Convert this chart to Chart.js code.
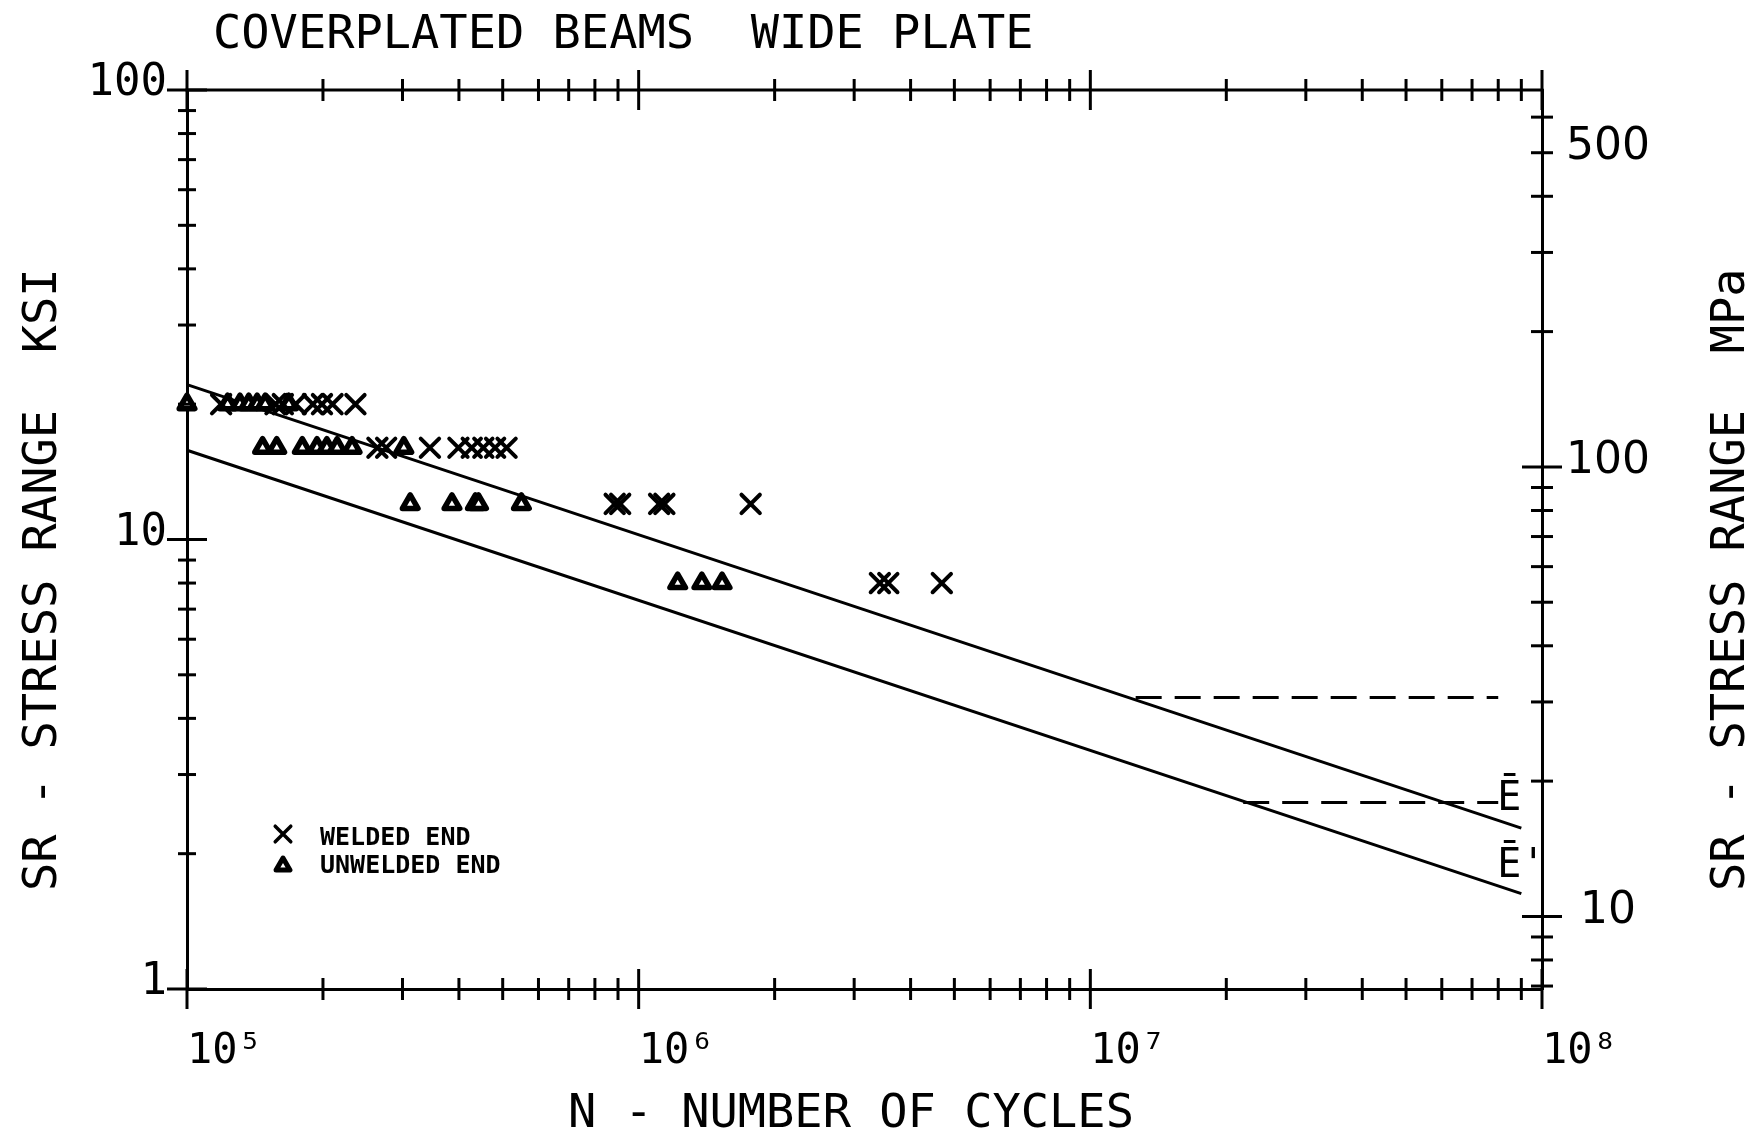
<!DOCTYPE html>
<html>
<head>
<meta charset="utf-8">
<title>Coverplated beams - wide plate</title>
<script src="https://cdn.jsdelivr.net/npm/chart.js@4.4.1/dist/chart.umd.min.js"></script>
<style>
  html, body { margin: 0; padding: 0; background: #ffffff; }
  #wrap { width: 1747px; height: 1132px; }
</style>
</head>
<body>
<div id="wrap"><canvas id="chart" width="1747" height="1132"></canvas></div>
<script>
// ---- test results: cycles to failure (N) and stress range (ksi) ----
const weldedN  = [1.19e5, 1.57e5, 1.63e5, 1.74e5, 1.90e5, 1.99e5, 2.10e5, 2.36e5,
                  2.64e5, 2.76e5, 3.45e5, 3.99e5, 4.27e5, 4.53e5, 4.81e5, 5.10e5,
                  8.85e5, 9.10e5, 1.11e6, 1.14e6, 1.77e6,
                  3.42e6, 3.57e6, 4.69e6];
const weldedSR = [20, 20, 20, 20, 20, 20, 20, 20,
                  16, 16, 16, 16, 16, 16, 16, 16,
                  12, 12, 12, 12, 12,
                  8, 8, 8];

const unweldedN  = [1.00e5, 1.23e5, 1.31e5, 1.37e5, 1.43e5, 1.49e5, 1.68e5,
                    1.47e5, 1.58e5, 1.80e5, 1.94e5, 2.04e5, 2.15e5, 2.32e5, 3.02e5,
                    3.12e5, 3.86e5, 4.35e5, 4.42e5, 5.50e5,
                    1.22e6, 1.38e6, 1.53e6];
const unweldedSR = [20, 20, 20, 20, 20, 20, 20,
                    16, 16, 16, 16, 16, 16, 16, 16,
                    12, 12, 12, 12, 12,
                    8, 8, 8];

// ---- design curves (category E and E') and their fatigue thresholds ----
const catE_N   = [1e5, 9e7];
const catE_SR  = [22.1, 2.28];
const catEp_N  = [1e5, 9e7];
const catEp_SR = [15.8, 1.63];
const threshE_N   = [1.26e7, 8e7];
const threshE_SR  = [4.45, 4.45];
const threshEp_N  = [2.18e7, 8e7];
const threshEp_SR = [2.6, 2.6];

// ---- axes ----
const xDecades    = [1e5, 1e6, 1e7, 1e8];
const xTickLabels = ['10\u2075', '10\u2076', '10\u2077', '10\u2078'];
const ksiDecades  = [1, 10, 100];
const ksiLabels   = ['1', '10', '100'];
const mpaLabelled = [10, 100, 500];
const mpaLabels   = ['10', '100', '500'];
const KSI_TO_MPA  = 6.894757;

const INK  = '#000000';
const MONO = '"DejaVu Sans Mono", monospace';
const SANS = '"DejaVu Sans", sans-serif';

// 1..9 subdivisions of each decade between lo and hi
function logTicks(lo, hi) {
  const out = [];
  for (let e = Math.floor(Math.log10(lo)); e <= Math.ceil(Math.log10(hi)); e++) {
    for (let m = 1; m <= 9; m++) {
      const v = Math.round(m * Math.pow(10, e) * 1e6) / 1e6;
      if (v >= lo * 0.9999 && v <= hi * 1.0001) out.push(v);
    }
  }
  return out;
}
const isDecade = v => Math.abs(Math.log10(v) - Math.round(Math.log10(v))) < 1e-9;
const pts = (xs, ys) => xs.map((v, i) => ({ x: v, y: ys[i] }));

const weldedStyle   = { pointStyle: 'crossRot', radius: 13, borderWidth: 4, rotation: 0 };
const unweldedStyle = { pointStyle: 'triangle', radius: 9, borderWidth: 5.5, rotation: 0 };
const keyWelded     = { pointStyle: 'crossRot', radius: 11, borderWidth: 3.5, rotation: 0 };
const keyUnwelded   = { pointStyle: 'triangle', radius: 8, borderWidth: 5, rotation: 0 };

// rounded pen joins for the plotted symbols
const penJoins = {
  id: 'penJoins',
  beforeDatasetsDraw(chart) { chart.ctx.save(); chart.ctx.lineJoin = 'round'; chart.ctx.lineCap = 'round'; },
  afterDatasetsDraw(chart) { chart.ctx.restore(); }
};

// crossing tick marks on all four sides of the frame
const frameTicks = {
  id: 'frameTicks',
  afterDraw(chart) {
    const { ctx, chartArea: a } = chart;
    const { x, y, y2 } = chart.scales;
    ctx.save();
    ctx.strokeStyle = INK;
    ctx.lineWidth = 3;
    ctx.lineCap = 'butt';
    const seg = (x1, y1, x2, y2b) => { ctx.beginPath(); ctx.moveTo(x1, y1); ctx.lineTo(x2, y2b); ctx.stroke(); };
    seg(a.left - 1.5, a.top, a.right + 1.5, a.top);
    x.ticks.forEach(t => {
      const p = x.getPixelForValue(t.value);
      const h = isDecade(t.value) ? 20 : 11;
      seg(p, a.bottom - h, p, a.bottom + h);
      seg(p, a.top - h, p, a.top + h);
    });
    y.ticks.forEach(t => {
      const p = y.getPixelForValue(t.value);
      const h = isDecade(t.value) ? 20 : 9;
      seg(a.left - h, p, a.left + h, p);
    });
    y2.ticks.forEach(t => {
      const p = y2.getPixelForValue(t.value);
      const h = isDecade(t.value) ? 20 : 11;
      seg(a.right - h, p, a.right + h, p);
    });
    ctx.restore();
  }
};

// titles, curve labels and the key
const annotations = {
  id: 'annotations',
  afterDraw(chart) {
    const { ctx } = chart;
    const { x, y } = chart.scales;
    ctx.save();
    ctx.fillStyle = INK;
    ctx.textAlign = 'left';
    ctx.textBaseline = 'alphabetic';

    ctx.font = '47px ' + MONO;
    ctx.fillText('COVERPLATED BEAMS  WIDE PLATE', 213, 48);
    ctx.fillText('N - NUMBER OF CYCLES', 568, 1127);

    ctx.save();
    ctx.translate(56, 891);
    ctx.rotate(-Math.PI / 2);
    ctx.fillText('SR - STRESS RANGE  KSI', 0, 0);
    ctx.restore();

    ctx.save();
    ctx.translate(1744, 891);
    ctx.rotate(-Math.PI / 2);
    ctx.fillText('SR - STRESS RANGE  MPa', 0, 0);
    ctx.restore();

    // category labels at the end of the threshold lines
    ctx.font = '40px ' + MONO;
    const lx = x.getPixelForValue(threshEp_N[1]) - 1;
    const ly = y.getPixelForValue(threshEp_SR[0]);
    ctx.fillText('\u0112', lx, ly + 8);
    ctx.fillText('\u0112\'', lx, ly + 75);

    // key
    ctx.font = 'bold 25px ' + MONO;
    ctx.strokeStyle = INK;
    ctx.lineJoin = 'round';
    ctx.lineCap = 'round';
    ctx.fillStyle = '#ffffff';
    ctx.lineWidth = keyWelded.borderWidth;
    Chart.helpers.drawPoint(ctx, keyWelded, 283, 834);
    ctx.lineWidth = keyUnwelded.borderWidth;
    Chart.helpers.drawPoint(ctx, keyUnwelded, 283, 866);
    ctx.fillStyle = INK;
    ctx.fillText('WELDED END', 320, 845);
    ctx.fillText('UNWELDED END', 320, 873);
    ctx.restore();
  }
};

new Chart(document.getElementById('chart'), {
  type: 'scatter',
  data: {
    datasets: [
      { label: 'WELDED END', data: pts(weldedN, weldedSR),
        pointStyle: weldedStyle.pointStyle, pointRadius: weldedStyle.radius,
        pointBorderWidth: weldedStyle.borderWidth, borderColor: INK, backgroundColor: INK, clip: false },
      { label: 'UNWELDED END', data: pts(unweldedN, unweldedSR),
        pointStyle: unweldedStyle.pointStyle, pointRadius: unweldedStyle.radius,
        pointBorderWidth: unweldedStyle.borderWidth, borderColor: INK, backgroundColor: '#ffffff', clip: false },
      { label: 'E', data: pts(catE_N, catE_SR), showLine: true, pointRadius: 0,
        borderColor: INK, borderWidth: 3, clip: false },
      { label: "E'", data: pts(catEp_N, catEp_SR), showLine: true, pointRadius: 0,
        borderColor: INK, borderWidth: 3, clip: false },
      { label: 'E threshold', data: pts(threshE_N, threshE_SR), showLine: true, pointRadius: 0,
        borderColor: INK, borderWidth: 3, borderDash: [26, 13], clip: false },
      { label: "E' threshold", data: pts(threshEp_N, threshEp_SR), showLine: true, pointRadius: 0,
        borderColor: INK, borderWidth: 3, borderDash: [26, 13], clip: false }
    ]
  },
  options: {
    responsive: false,
    devicePixelRatio: 1,
    animation: false,
    layout: { padding: { top: 90, left: 0, right: 0, bottom: 0 } },
    plugins: { legend: { display: false }, tooltip: { enabled: false }, title: { display: false } },
    scales: {
      x: {
        type: 'logarithmic', position: 'bottom', min: 1e5, max: 1e8,
        grid: { display: false, drawTicks: false },
        border: { display: true, color: INK, width: 3 },
        afterBuildTicks: s => { s.ticks = logTicks(1e5, 1e8).map(v => ({ value: v })); },
        afterFit: s => { s.height = 143; },
        ticks: {
          autoSkip: false, maxRotation: 0, minRotation: 0, align: 'start', padding: 38,
          color: INK, font: { family: MONO, size: 42 },
          callback: v => { const i = xDecades.indexOf(v); return i >= 0 ? xTickLabels[i] : ''; }
        }
      },
      y: {
        type: 'logarithmic', position: 'left', min: 1, max: 100,
        grid: { display: false, drawTicks: false },
        border: { display: true, color: INK, width: 3 },
        afterBuildTicks: s => { s.ticks = logTicks(1, 100).map(v => ({ value: v })); },
        afterFit: s => { s.width = 187; },
        ticks: {
          autoSkip: false, padding: 20, labelOffset: -6,
          color: INK, font: { family: MONO, size: 44 },
          callback: v => { const i = ksiDecades.indexOf(v); return i >= 0 ? ksiLabels[i] : ''; }
        }
      },
      y2: {
        type: 'logarithmic', position: 'right', min: KSI_TO_MPA, max: 100 * KSI_TO_MPA,
        grid: { display: false, drawTicks: false },
        border: { display: true, color: INK, width: 3 },
        afterBuildTicks: s => { s.ticks = logTicks(7, 600).map(v => ({ value: v })); },
        afterFit: s => { s.width = 205; },
        ticks: {
          autoSkip: false, padding: 24, labelOffset: -5, crossAlign: 'center',
          color: INK, font: { family: SANS, size: 44 },
          callback: v => { const i = mpaLabelled.indexOf(v); return i >= 0 ? mpaLabels[i] : ''; }
        }
      }
    }
  },
  plugins: [penJoins, frameTicks, annotations]
});
</script>
</body>
</html>
